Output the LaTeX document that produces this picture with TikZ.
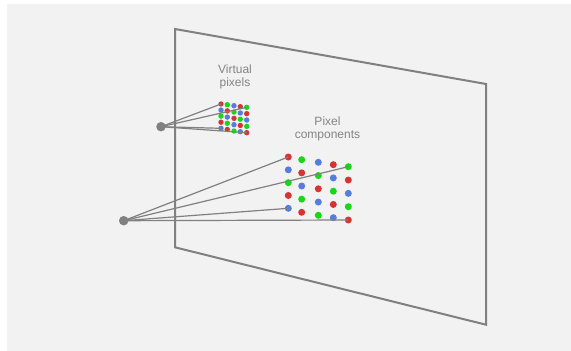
\documentclass[tikz,border=0pt]{standalone}
\usepackage{fontspec}
\setmainfont{Liberation Sans}
\definecolor{bggray}{RGB}{242,242,242}
\definecolor{linegray}{RGB}{128,128,128}
\definecolor{textgray}{RGB}{132,132,132}
\definecolor{pxc0}{RGB}{214,52,52}
\definecolor{pxc1}{RGB}{24,214,24}
\definecolor{pxc2}{RGB}{86,124,220}
\tikzset{
  eye/.style={circle,fill=linegray,inner sep=0pt,minimum size=9.5pt},
  bigdot/.style={circle,inner sep=0pt,minimum size=7pt},
  smalldot/.style={circle,inner sep=0pt,minimum size=5.4pt},
  ray/.style={draw=linegray,line width=1.2pt},
  caption/.style={text=textgray,font=\fontsize{12}{13.5}\selectfont,align=center}
}
\begin{document}
\begin{tikzpicture}[x=1pt,y=-1pt]
  \useasboundingbox (0,0) rectangle (571,351);
  \fill[bggray] (7,4) rectangle (571,351);
  % screen plane
  \draw[linegray,line width=2pt] (175,29) -- (486,84) -- (486,324.7) -- (175,247.3) -- cycle;
  % pixel components
  \foreach \c/\x/\yt/\yb in {0/288.3/157/208.3,1/301.7/159.7/212.3,2/318.3/162.3/215.3,3/333.3/164.7/217.7,4/348.3/166.7/220}
    \foreach \r in {0,...,4}{
      \pgfmathtruncatemacro\k{mod(\c-\r+6,3)}
      \node[bigdot,fill=pxc\k] (big\c\r) at (\x,{\yt+\r*(\yb-\yt)/4}) {};
    }
  % virtual pixels
  \foreach \c/\x/\yt/\yb in {0/221/104/128.3,1/227.3/104.7/129.5,2/234/105.7/131,3/240.3/106.7/131.7,4/246.7/107.3/132.7}
    \foreach \r in {0,...,4}{
      \pgfmathtruncatemacro\k{mod(\c-\r+6,3)}
      \node[smalldot,fill=pxc\k] (small\c\r) at (\x,{\yt+\r*(\yb-\yt)/4}) {};
    }
  \node[caption] (virtlabel) at (235,77) {Virtual\\pixels};
  \node[caption] (complabel) at (327.5,129) {Pixel\\components};
  % eyes and rays
  \node[eye] (eyeB) at (123.7,220.7) {};
  \node[eye] (eyeA) at (161,126.7) {};
  \foreach \t in {00,40,04,44}{
    \draw[ray] (eyeB.center) -- (big\t.center);
    \draw[ray] (eyeA.center) -- (small\t.center);
  }
\end{tikzpicture}
\end{document}
